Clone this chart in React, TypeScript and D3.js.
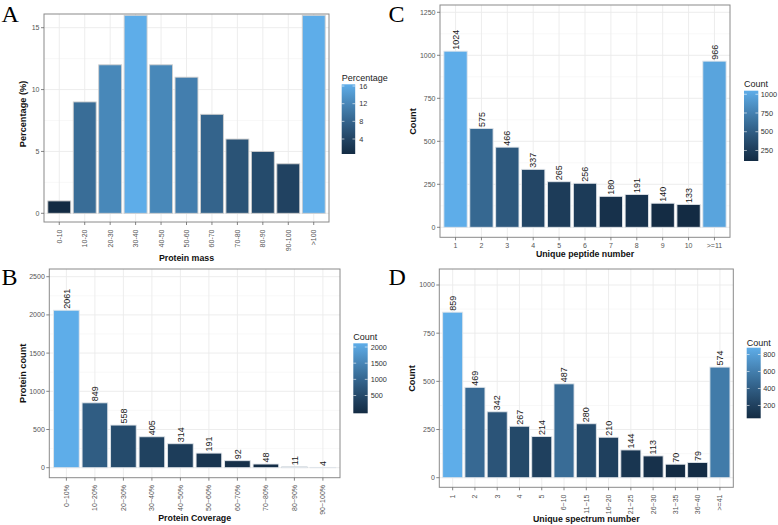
import React from "react";
import * as d3 from "d3";

// ---------- data ----------
const massCats = ["0-10", "10-20", "20-30", "30-40", "40-50", "50-60", "60-70", "70-80", "80-90", "90-100", ">100"];
const massPct = [1, 9, 12, 16, 12, 11, 8, 6, 5, 4, 16];
const massTicks = [0, 5, 10, 15];
const massLegendTicks = [4, 8, 12, 16];

const covCats = ["0~10%", "10~20%", "20~30%", "30~40%", "40~50%", "50~60%", "60~70%", "70~80%", "80~90%", "90~100%"];
const covCounts = [2061, 849, 558, 405, 314, 191, 92, 48, 11, 4];
const covTicks = [0, 500, 1000, 1500, 2000, 2500];
const covLegendTicks = [500, 1000, 1500, 2000];

const pepCats = ["1", "2", "3", "4", "5", "6", "7", "8", "9", "10", ">=11"];
const pepCounts = [1024, 575, 466, 337, 265, 256, 180, 191, 140, 133, 966];
const pepTicks = [0, 250, 500, 750, 1000, 1250];
const pepLegendTicks = [250, 500, 750, 1000];

const specCats = ["1", "2", "3", "4", "5", "6~10", "11~15", "16~20", "21~25", "26~30", "31~35", "36~40", ">=41"];
const specCounts = [859, 469, 342, 267, 214, 487, 280, 210, 144, 113, 70, 79, 574];
const specTicks = [0, 250, 500, 750, 1000];
const specLegendTicks = [200, 400, 600, 800];

const LOW = "#132B43";
const HIGH = "#5EADE9";
const FONT = "'Liberation Sans', Arial, Helvetica, sans-serif";
const SERIF = "'Liberation Serif', 'Times New Roman', serif";

type Box = { x0: number; x1: number; y0: number; y1: number };
type Leg = { x: number; w: number; y0: number; y1: number; titleY: number; gap: number };

interface PanelProps {
  id: string;
  letter: string;
  letterX: number;
  letterY: number;
  cats: string[];
  values: number[];
  yTicks: number[];
  legendTicks: number[];
  legendTitle: string;
  box: Box;
  zeroPx: number;
  refVal: number;
  refPx: number;
  xTitle: string;
  xTitleY: number;
  yTitle: string;
  yTitleX: number;
  yTitleY: number;
  rotateX: boolean;
  xLabelY: number;
  showValues: boolean;
  legend: Leg;
  barStroke: string;
}

function Panel(p: PanelProps) {
  const { box } = p;
  const x = d3.scaleBand<string>().domain(p.cats).range([box.x0, box.x1]).paddingInner(0.1).paddingOuter(0.15);
  const y = d3.scaleLinear().domain([0, p.refVal]).range([p.zeroPx, p.refPx]);
  const [mn, mx] = d3.extent(p.values) as [number, number];
  const color = d3.scaleLinear<string>().domain([mn, mx]).range([LOW, HIGH]).interpolate(d3.interpolateLab);

  const step = p.yTicks[1] - p.yTicks[0];
  const minor: number[] = [];
  for (let v = step / 2; v < p.yTicks[p.yTicks.length - 1] + step; v += step) {
    const py = y(v);
    if (py > box.y0 && py < box.y1) minor.push(v);
  }

  const L = p.legend;
  const h = L.y1 - L.y0;
  const half = h / 40;
  const legY = d3.scaleLinear().domain([mn, mx]).range([L.y1 - half, L.y0 + half]);
  const stops = d3.range(0, 11).map((i) => i / 10);
  const gid = "grad-" + p.id;

  return (
    <g>
      <defs>
        <linearGradient id={gid} x1="0" y1="1" x2="0" y2="0">
          {stops.map((t) => (
            <stop key={t} offset={t} stopColor={color(mn + t * (mx - mn))} />
          ))}
        </linearGradient>
      </defs>
      <text x={p.letterX} y={p.letterY} fontFamily={SERIF} fontSize={24} fill="#000">
        {p.letter}
      </text>
      {/* panel background */}
      <rect x={box.x0} y={box.y0} width={box.x1 - box.x0} height={box.y1 - box.y0} fill="#fff" />
      {/* minor grid */}
      {minor.map((v) => (
        <line key={"mi" + v} x1={box.x0} x2={box.x1} y1={y(v)} y2={y(v)} stroke="#f3f3f3" strokeWidth={0.6} />
      ))}
      {/* major grid */}
      {p.yTicks.map((v) => (
        <line key={"ma" + v} x1={box.x0} x2={box.x1} y1={y(v)} y2={y(v)} stroke="#ebebeb" strokeWidth={0.9} />
      ))}
      {p.cats.map((c) => {
        const cx = (x(c) as number) + x.bandwidth() / 2;
        return <line key={"vg" + c} x1={cx} x2={cx} y1={box.y0} y2={box.y1} stroke="#ebebeb" strokeWidth={0.9} />;
      })}
      {/* bars */}
      {p.cats.map((c, i) => (
        <rect
          key={"b" + c}
          x={x(c) as number}
          y={y(p.values[i])}
          width={x.bandwidth()}
          height={Math.max(0, y(0) - y(p.values[i]))}
          fill={color(p.values[i])}
          stroke={p.barStroke}
          strokeWidth={0.9}
        />
      ))}
      {/* value labels */}
      {p.showValues &&
        p.cats.map((c, i) => {
          const cx = (x(c) as number) + x.bandwidth() / 2;
          return (
            <text
              key={"v" + c}
              transform={`translate(${cx},${y(p.values[i]) - 1.5}) rotate(-90)`}
              textAnchor="start"
              dy="0.35em"
              fontFamily={FONT}
              fontSize={9}
              fill="#1a1a1a"
            >
              {p.values[i]}
            </text>
          );
        })}
      {/* border */}
      <rect x={box.x0} y={box.y0} width={box.x1 - box.x0} height={box.y1 - box.y0} fill="none" stroke="#8a8a8a" strokeWidth={1} />
      {/* y axis ticks */}
      {p.yTicks.map((v) => (
        <g key={"yt" + v}>
          <line x1={box.x0 - 3} x2={box.x0} y1={y(v)} y2={y(v)} stroke="#666" strokeWidth={0.8} />
          <text x={box.x0 - 4.5} y={y(v)} dy="0.35em" textAnchor="end" fontFamily={FONT} fontSize={7} fill="#555">
            {v}
          </text>
        </g>
      ))}
      {/* x axis ticks */}
      {p.cats.map((c) => {
        const cx = (x(c) as number) + x.bandwidth() / 2;
        return (
          <g key={"xt" + c}>
            <line x1={cx} x2={cx} y1={box.y1} y2={box.y1 + 3} stroke="#666" strokeWidth={0.8} />
            {p.rotateX ? (
              <text
                transform={`translate(${cx},${p.xLabelY}) rotate(-90)`}
                textAnchor="end"
                dy="0.35em"
                fontFamily={FONT}
                fontSize={7}
                fill="#555"
              >
                {c}
              </text>
            ) : (
              <text x={cx} y={p.xLabelY} textAnchor="middle" fontFamily={FONT} fontSize={7} fill="#555">
                {c}
              </text>
            )}
          </g>
        );
      })}
      {/* axis titles */}
      <text x={(box.x0 + box.x1) / 2} y={p.xTitleY} textAnchor="middle" fontFamily={FONT} fontSize={8.8} fontWeight="bold" fill="#111">
        {p.xTitle}
      </text>
      <text
        transform={`translate(${p.yTitleX},${p.yTitleY}) rotate(-90)`}
        textAnchor="middle"
        dy="0.35em"
        fontFamily={FONT}
        fontSize={9.2}
        fontWeight="bold"
        fill="#111"
      >
        {p.yTitle}
      </text>
      {/* legend */}
      <text x={L.x} y={L.titleY} fontFamily={FONT} fontSize={9} fill="#222">
        {p.legendTitle}
      </text>
      <rect x={L.x} y={L.y0} width={L.w} height={h} fill={`url(#${gid})`} />
      {p.legendTicks.map((v) => (
        <g key={"lt" + v}>
          <line x1={L.x} x2={L.x + L.w / 5} y1={legY(v)} y2={legY(v)} stroke="#fff" strokeWidth={0.6} />
          <line x1={L.x + L.w - L.w / 5} x2={L.x + L.w} y1={legY(v)} y2={legY(v)} stroke="#fff" strokeWidth={0.6} />
          <text x={L.x + L.w + L.gap} y={legY(v)} dy="0.35em" fontFamily={FONT} fontSize={7.3} fill="#333">
            {v}
          </text>
        </g>
      ))}
    </g>
  );
}

export default function App() {
  return (
    <svg width={778} height={525} style={{ position: "absolute", left: 0, top: 0, background: "#fff" }}>
      <rect x={0} y={0} width={778} height={525} fill="#fff" />
      <Panel
        id="A"
        letter="A"
        letterX={1.5}
        letterY={21.5}
        cats={massCats}
        values={massPct}
        yTicks={massTicks}
        legendTicks={massLegendTicks}
        legendTitle="Percentage"
        box={{ x0: 44, x1: 329, y0: 14, y1: 222 }}
        zeroPx={213.3}
        refVal={15}
        refPx={27.7}
        xTitle="Protein mass"
        xTitleY={261}
        yTitle="Percentage (%)"
        yTitleX={23}
        yTitleY={114}
        rotateX={true}
        xLabelY={229.5}
        showValues={false}
        legend={{ x: 341.7, w: 13.5, y0: 84.3, y1: 154, titleY: 80.5, gap: 4 }}
        barStroke="#cfcfcf"
      />
      <Panel
        id="B"
        letter="B"
        letterX={1.5}
        letterY={285}
        cats={covCats}
        values={covCounts}
        yTicks={covTicks}
        legendTicks={covLegendTicks}
        legendTitle="Count"
        box={{ x0: 49.3, x1: 340, y0: 269, y1: 477.7 }}
        zeroPx={467.7}
        refVal={2500}
        refPx={276.7}
        xTitle="Protein Coverage"
        xTitleY={521}
        yTitle="Protein count"
        yTitleX={22.5}
        yTitleY={373.3}
        rotateX={true}
        xLabelY={485}
        showValues={true}
        legend={{ x: 353.3, w: 14.4, y0: 343.3, y1: 413.3, titleY: 340, gap: 3 }}
        barStroke="#e0e5ea"
      />
      <Panel
        id="C"
        letter="C"
        letterX={388.5}
        letterY={21.5}
        cats={pepCats}
        values={pepCounts}
        yTicks={pepTicks}
        legendTicks={pepLegendTicks}
        legendTitle="Count"
        box={{ x0: 440, x1: 730, y0: 5, y1: 237.3 }}
        zeroPx={227.3}
        refVal={1250}
        refPx={12.3}
        xTitle="Unique peptide number"
        xTitleY={257}
        yTitle="Count"
        yTitleX={412.8}
        yTitleY={121.5}
        rotateX={false}
        xLabelY={247.5}
        showValues={true}
        legend={{ x: 744, w: 14.3, y0: 90.7, y1: 161, titleY: 87.3, gap: 2.5 }}
        barStroke="#e0e5ea"
      />
      <Panel
        id="D"
        letter="D"
        letterX={388.5}
        letterY={284.5}
        cats={specCats}
        values={specCounts}
        yTicks={specTicks}
        legendTicks={specLegendTicks}
        legendTitle="Count"
        box={{ x0: 439.3, x1: 733.3, y0: 269, y1: 487.3 }}
        zeroPx={477.7}
        refVal={1000}
        refPx={285}
        xTitle="Unique spectrum number"
        xTitleY={521.5}
        yTitle="Count"
        yTitleX={412.2}
        yTitleY={378.5}
        rotateX={true}
        xLabelY={494.5}
        showValues={true}
        legend={{ x: 746.7, w: 14, y0: 347.7, y1: 418.3, titleY: 345.5, gap: 2.5 }}
        barStroke="#e0e5ea"
      />
    </svg>
  );
}
